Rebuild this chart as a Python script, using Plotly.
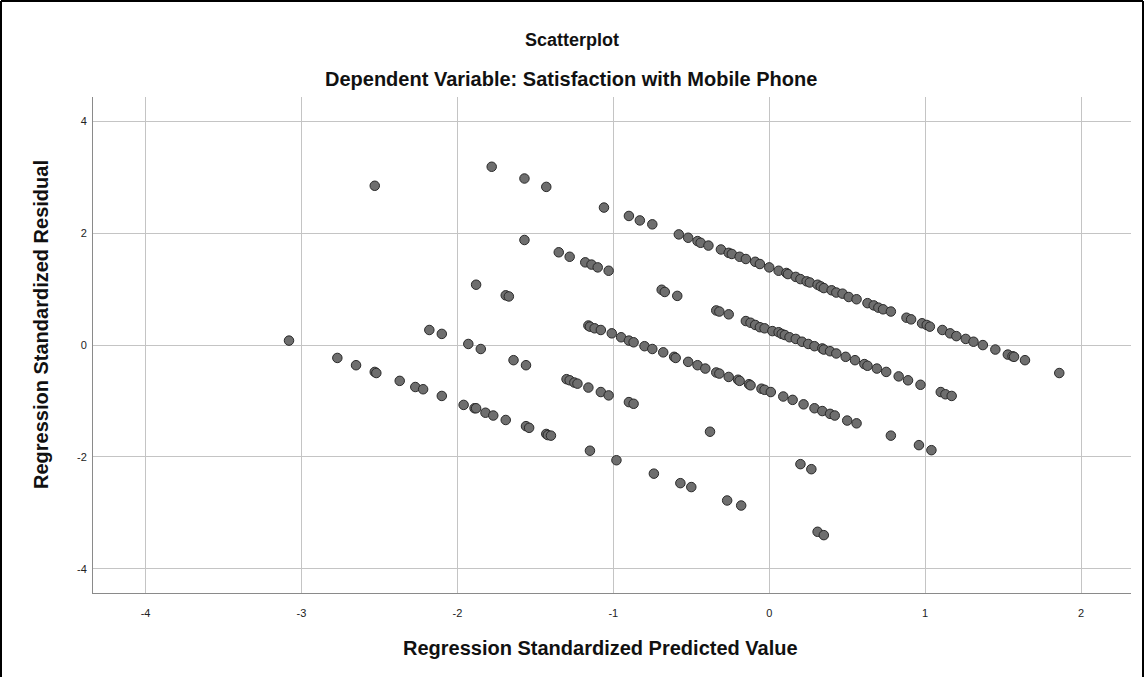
import plotly.graph_objects as go

# ---- data ----
# outliers / sparse points
pred_sparse = [-3.08, -2.53, -1.78, -1.57, -1.43, -1.06, -0.90, -0.83, -0.75,
               -1.57, -1.35, -1.28, -1.18, -1.14, -1.10, -1.03,
               -1.88, -1.69, -1.67, -2.18, -2.10, -1.93, -1.85, -1.64, -1.56,
               -0.38, 0.78, 0.96, 1.04]
resid_sparse = [0.08, 2.85, 3.19, 2.98, 2.83, 2.46, 2.31, 2.23, 2.16,
                1.88, 1.66, 1.58, 1.48, 1.44, 1.39, 1.33,
                1.08, 0.89, 0.87, 0.27, 0.20, 0.02, -0.07, -0.27, -0.36,
                -1.55, -1.62, -1.79, -1.88]

# top dense band
pred_top = [-0.58, -0.52, -0.46, -0.44, -0.39, -0.31, -0.26, -0.24, -0.19, -0.15,
            -0.09, -0.06, 0.00, 0.06, 0.11, 0.12, 0.17, 0.20, 0.24, 0.26,
            0.31, 0.33, 0.35, 0.40, 0.43, 0.47, 0.51, 0.56, 0.63, 0.67,
            0.70, 0.73, 0.78, 0.88, 0.91, 0.98, 1.01, 1.03, 1.11, 1.16,
            1.20, 1.26, 1.31, 1.37, 1.45, 1.53, 1.56, 1.57, 1.64, 1.86]
resid_top = [1.98, 1.92, 1.86, 1.83, 1.78, 1.71, 1.65, 1.63, 1.58, 1.54,
             1.49, 1.45, 1.39, 1.33, 1.29, 1.27, 1.22, 1.18, 1.14, 1.12,
             1.08, 1.05, 1.02, 0.98, 0.94, 0.92, 0.86, 0.82, 0.75, 0.71,
             0.67, 0.64, 0.60, 0.49, 0.46, 0.39, 0.36, 0.33, 0.27, 0.21,
             0.16, 0.11, 0.06, 0.00, -0.08, -0.17, -0.20, -0.21, -0.27, -0.50]

# second band
pred_mid = [-1.16, -1.15, -1.12, -1.08, -1.01, -0.95, -0.90, -0.87, -0.80,
            -0.69, -0.67, -0.59, -0.34, -0.32, -0.26, -0.15, -0.12, -0.09, -0.06, -0.03,
            0.02, 0.06, 0.08, 0.10, 0.13, 0.17, 0.21, 0.25, 0.29, 0.34,
            0.35, 0.39, 0.43, 0.49, 0.55, 0.61, 0.63, 0.69, 0.75, 0.83,
            0.89, 0.97, 1.10, 1.13, 1.17]
resid_mid = [0.35, 0.33, 0.30, 0.27, 0.21, 0.14, 0.08, 0.05, -0.02,
             0.99, 0.95, 0.88, 0.62, 0.60, 0.55, 0.43, 0.40, 0.36, 0.32, 0.30,
             0.25, 0.23, 0.20, 0.18, 0.14, 0.11, 0.06, 0.02, -0.02, -0.06,
             -0.08, -0.11, -0.15, -0.21, -0.27, -0.34, -0.37, -0.42, -0.48, -0.56,
             -0.63, -0.71, -0.84, -0.88, -0.91]

# third band
pred_low = [-1.30, -1.28, -1.25, -1.23, -1.16, -1.08, -1.03, -0.90, -0.87,
            -0.75, -0.68, -0.61, -0.60, -0.52, -0.46, -0.41, -0.34, -0.32, -0.26,
            -0.20, -0.19, -0.13, -0.12, -0.05, -0.03, 0.01, 0.09, 0.15, 0.22,
            0.29, 0.34, 0.39, 0.42, 0.50, 0.56]
resid_low = [-0.61, -0.63, -0.67, -0.69, -0.76, -0.84, -0.90, -1.02, -1.05,
             -0.07, -0.13, -0.21, -0.23, -0.30, -0.36, -0.42, -0.49, -0.51, -0.57,
             -0.62, -0.64, -0.70, -0.72, -0.78, -0.80, -0.84, -0.92, -0.98, -1.06,
             -1.13, -1.18, -1.23, -1.26, -1.35, -1.40]

# lowest bands
pred_bottom = [-2.77, -2.65, -2.53, -2.52, -2.37, -2.27, -2.22, -2.10, -1.96, -1.89,
               -1.88, -1.82, -1.77, -1.69, -1.56, -1.54, -1.43, -1.42, -1.40,
               -1.15, -0.98, -0.74, -0.57, -0.50, -0.27, -0.18, 0.20, 0.27, 0.31, 0.35]
resid_bottom = [-0.23, -0.36, -0.48, -0.50, -0.64, -0.75, -0.79, -0.91, -1.07, -1.13,
                -1.13, -1.21, -1.26, -1.34, -1.45, -1.48, -1.59, -1.61, -1.62,
                -1.89, -2.06, -2.30, -2.47, -2.54, -2.78, -2.87, -2.13, -2.22, -3.34, -3.40]

x_ticks = [-4, -3, -2, -1, 0, 1, 2]
x_tick_labels = ["-4", "-3", "-2", "-1", "0", "1", "2"]
y_ticks = [-4, -2, 0, 2, 4]
y_tick_labels = ["-4", "-2", "0", "2", "4"]

x_vals = pred_sparse + pred_top + pred_mid + pred_low + pred_bottom
y_vals = resid_sparse + resid_top + resid_mid + resid_low + resid_bottom

# ---- layout geometry (pixels) ----
W, H = 1145, 677
L, R, T, B = 93, 1131, 97, 593


def px(p):
    return (p - L) / (R - L)


def py(q):
    return (B - q) / (B - T)


FONT = "Liberation Sans, Arial, sans-serif"

fig = go.Figure()
fig.add_trace(go.Scatter(
    x=x_vals, y=y_vals, mode="markers",
    marker=dict(size=9.5, color="#6e6e6e", line=dict(color="#2a2a2a", width=1)),
    hoverinfo="x+y", showlegend=False,
))

fig.update_layout(
    width=W, height=H,
    margin=dict(l=L, r=W - R, t=T, b=H - B, pad=0),
    paper_bgcolor="white", plot_bgcolor="white",
    font=dict(family=FONT, color="#222"),
    xaxis=dict(range=[-4.337, 2.32], tickvals=x_ticks, ticktext=x_tick_labels,
               showgrid=True, gridcolor="#c4c4c4", gridwidth=1, zeroline=False,
               showline=True, linecolor="#8a8a8a", linewidth=1, mirror=False,
               ticks="", tickfont=dict(size=11, color="#222"),
               ticklabelstandoff=10),
    yaxis=dict(range=[-4.435, 4.438], tickvals=y_ticks, ticktext=y_tick_labels,
               showgrid=True, gridcolor="#c4c4c4", gridwidth=1, zeroline=False,
               showline=True, linecolor="#8a8a8a", linewidth=1, mirror=False,
               ticks="", tickfont=dict(size=11, color="#222"),
               ticklabelstandoff=3),
)

annos = [
    dict(text="<b>Scatterplot</b>", x=px(572), y=py(40), size=18),
    dict(text="<b>Dependent Variable: Satisfaction with Mobile Phone</b>", x=px(571), y=py(79), size=20),
    dict(text="<b>Regression Standardized Predicted Value</b>", x=px(600), y=py(648), size=20),
]
for a in annos:
    fig.add_annotation(text=a["text"], x=a["x"], y=a["y"], xref="paper", yref="paper",
                       xanchor="center", yanchor="middle", showarrow=False,
                       font=dict(family=FONT, size=a["size"], color="#111"))
fig.add_annotation(text="<b>Regression Standardized Residual</b>", x=px(41), y=py(325),
                   xref="paper", yref="paper", xanchor="center", yanchor="middle",
                   textangle=-90, showarrow=False,
                   font=dict(family=FONT, size=20, color="#111"))

# outer frame lines (left, top, right)
for x0, y0, x1, y1 in [(1, 1, 1, 677), (1, 1, 1143, 1), (1143, 1, 1143, 677)]:
    fig.add_shape(type="line", xref="paper", yref="paper",
                  x0=px(x0), y0=py(y0), x1=px(x1), y1=py(y1),
                  line=dict(color="black", width=2), layer="above")

fig.write_html("out.html", config={"displayModeBar": False},
               post_script="document.body.style.margin='0';document.body.style.overflow='hidden';")
